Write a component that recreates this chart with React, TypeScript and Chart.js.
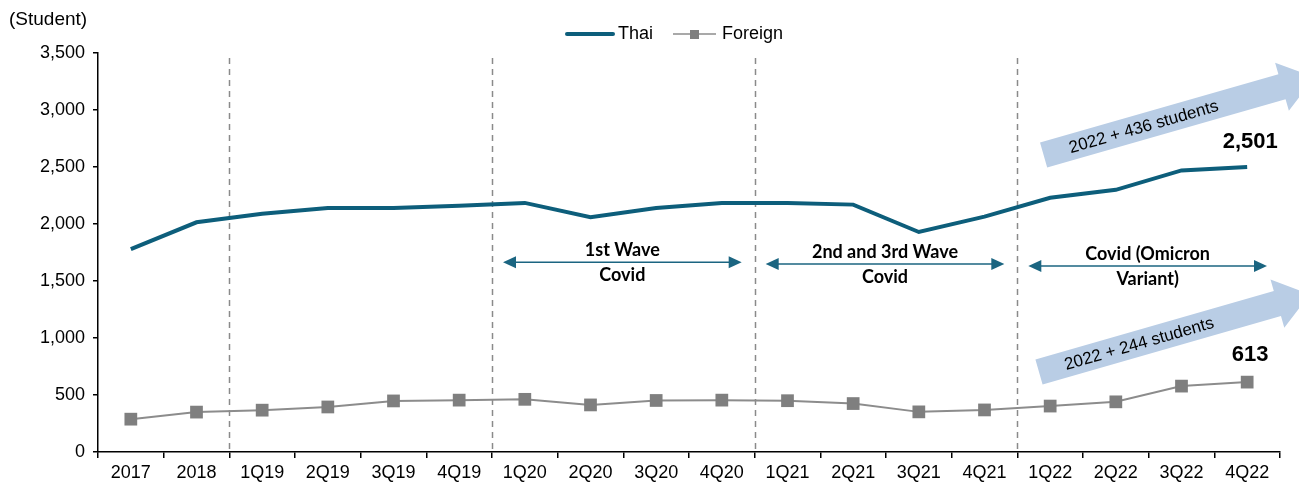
import React, { useEffect, useRef } from 'react';
import { Chart, registerables } from 'chart.js';

Chart.register(...registerables);

const categories = ['2017', '2018', '1Q19', '2Q19', '3Q19', '4Q19', '1Q20', '2Q20', '3Q20', '4Q20', '1Q21', '2Q21', '3Q21', '4Q21', '1Q22', '2Q22', '3Q22', '4Q22'];
const thaiValues = [1780, 2015, 2090, 2140, 2140, 2160, 2185, 2060, 2140, 2185, 2185, 2170, 1930, 2065, 2230, 2300, 2470, 2501];
const foreignValues = [288, 350, 367, 395, 448, 455, 462, 413, 452, 455, 450, 425, 352, 369, 403, 440, 578, 613];

const yMin = 0;
const yMax = 3500;
const yStep = 500;

const phaseBoundaries = [1.5, 5.5, 9.5, 13.5];
const waveFrom = [5.5, 9.5, 13.5];
const waveTo = [9.5, 13.5, 17.5];
const waveLevel = [1665, 1650, 1632];
const waveTopText = ['1st Wave', '2nd and 3rd Wave', 'Covid (Omicron'];
const waveBottomText = ['Covid', 'Covid', 'Variant)'];

const growthStartIndex = [13.9, 13.83];
const growthStartValue = [2605, 702];
const growthText = ['2022 + 436 students', '2022 + 244 students'];

const endLabelText = ['2,501', '613'];

const THAI = '#0d5e7b';
const FOREIGN_LINE = '#8c8c8c';
const FOREIGN_MARK = '#7f7f7f';
const WAVE = '#1b6581';
const GROWTH = '#b9cde5';
const FONT = "'Liberation Sans', Arial, sans-serif";
const WAVE_FONT = "bold 18px Lato, 'Liberation Sans', sans-serif";

const overlay = {
  id: 'overlay',
  beforeDatasetsDraw(chart: any) {
    const { ctx, chartArea, scales } = chart;
    const x = scales.x;
    const y = scales.y;
    ctx.save();
    ctx.strokeStyle = '#8a8a8a';
    ctx.lineWidth = 1.5;
    ctx.setLineDash([6, 5]);
    for (const b of phaseBoundaries) {
      const px = Math.round(x.getPixelForValue(b)) + 0.5;
      ctx.beginPath();
      ctx.moveTo(px, chartArea.top + 5);
      ctx.lineTo(px, chartArea.bottom);
      ctx.stroke();
    }
    ctx.restore();

    const ang = (-16 * Math.PI) / 180;
    for (let i = 0; i < growthText.length; i++) {
      const sx = x.getPixelForValue(growthStartIndex[i]);
      const sy = y.getPixelForValue(growthStartValue[i]);
      const len = 282;
      const bw = 13;
      const hw = 25;
      const hl = 34;
      ctx.save();
      ctx.translate(sx, sy);
      ctx.rotate(ang);
      ctx.fillStyle = GROWTH;
      ctx.beginPath();
      ctx.moveTo(0, -bw);
      ctx.lineTo(len - hl, -bw);
      ctx.lineTo(len - hl, -hw);
      ctx.lineTo(len, 0);
      ctx.lineTo(len - hl, hw);
      ctx.lineTo(len - hl, bw);
      ctx.lineTo(0, bw);
      ctx.closePath();
      ctx.fill();
      ctx.fillStyle = '#000';
      ctx.font = `17px ${FONT}`;
      ctx.textAlign = 'center';
      ctx.textBaseline = 'middle';
      ctx.fillText(growthText[i], 104, 1);
      ctx.restore();
    }
  },
  afterDatasetsDraw(chart: any) {
    const { ctx, scales } = chart;
    const x = scales.x;
    const y = scales.y;

    for (let i = 0; i < waveFrom.length; i++) {
      const x1 = x.getPixelForValue(waveFrom[i]) + 11;
      const x2 = x.getPixelForValue(waveTo[i]) - 13;
      const py = y.getPixelForValue(waveLevel[i]);
      ctx.save();
      ctx.strokeStyle = WAVE;
      ctx.fillStyle = WAVE;
      ctx.lineWidth = 1.5;
      ctx.beginPath();
      ctx.moveTo(x1 + 6, py);
      ctx.lineTo(x2 - 6, py);
      ctx.stroke();
      ctx.beginPath();
      ctx.moveTo(x1, py);
      ctx.lineTo(x1 + 13, py - 6);
      ctx.lineTo(x1 + 13, py + 6);
      ctx.closePath();
      ctx.fill();
      ctx.beginPath();
      ctx.moveTo(x2, py);
      ctx.lineTo(x2 - 13, py - 6);
      ctx.lineTo(x2 - 13, py + 6);
      ctx.closePath();
      ctx.fill();
      const cx = (x1 + x2) / 2;
      ctx.fillStyle = '#000';
      ctx.font = WAVE_FONT;
      ctx.textAlign = 'center';
      ctx.textBaseline = 'middle';
      ctx.fillText(waveTopText[i], cx, py - 12);
      ctx.fillText(waveBottomText[i], cx, py + 13);
      ctx.restore();
    }

    ctx.save();
    ctx.fillStyle = '#000';
    ctx.font = `bold 22px ${FONT}`;
    ctx.textAlign = 'center';
    ctx.textBaseline = 'middle';
    for (let d = 0; d < endLabelText.length; d++) {
      const meta = chart.getDatasetMeta(d);
      const pt = meta.data[meta.data.length - 1];
      ctx.fillText(endLabelText[d], pt.x + 3, pt.y - (d === 0 ? 25 : 27));
    }
    ctx.restore();

    ctx.save();
    ctx.fillStyle = '#000';
    ctx.font = `19px ${FONT}`;
    ctx.textAlign = 'left';
    ctx.textBaseline = 'middle';
    ctx.fillText('(Student)', 9, 20);

    const ly = 34;
    ctx.font = `18px ${FONT}`;
    ctx.strokeStyle = THAI;
    ctx.lineWidth = 4;
    ctx.lineCap = 'round';
    ctx.beginPath();
    ctx.moveTo(567, ly);
    ctx.lineTo(613, ly);
    ctx.stroke();
    ctx.fillText('Thai', 618, ly);
    ctx.lineCap = 'butt';
    ctx.strokeStyle = FOREIGN_LINE;
    ctx.lineWidth = 1.5;
    ctx.beginPath();
    ctx.moveTo(673, ly);
    ctx.lineTo(716, ly);
    ctx.stroke();
    ctx.fillStyle = FOREIGN_MARK;
    ctx.fillRect(690, ly - 4, 9, 9);
    ctx.fillStyle = '#000';
    ctx.fillText('Foreign', 722, ly);
    ctx.restore();
  },
};

export default function App() {
  const ref = useRef<HTMLCanvasElement | null>(null);
  useEffect(() => {
    document.body.style.margin = '0';
    const canvas = ref.current;
    if (!canvas) return;
    const chart = new Chart(canvas, {
      type: 'line',
      data: {
        labels: categories,
        datasets: [
          {
            label: 'Thai',
            data: thaiValues,
            borderColor: THAI,
            backgroundColor: THAI,
            borderWidth: 4,
            pointRadius: 0,
            tension: 0,
          },
          {
            label: 'Foreign',
            data: foreignValues,
            borderColor: FOREIGN_LINE,
            backgroundColor: FOREIGN_MARK,
            borderWidth: 2,
            pointStyle: 'rect',
            pointRadius: 9,
            pointBorderWidth: 0,
            pointBackgroundColor: FOREIGN_MARK,
            tension: 0,
          },
        ],
      },
      options: {
        responsive: false,
        animation: false,
        devicePixelRatio: 1,
        layout: { padding: { left: 0, right: 19, top: 53, bottom: 0 } },
        plugins: { legend: { display: false }, tooltip: { enabled: false } },
        scales: {
          x: {
            offset: true,
            afterFit(scale: any) {
              scale.height = 31;
            },
            grid: {
              offset: true,
              drawOnChartArea: false,
              drawTicks: true,
              tickLength: 6,
              color: '#000',
              lineWidth: 1.5,
            },
            border: { color: '#000', width: 1.5 },
            ticks: {
              color: '#000',
              font: { family: FONT, size: 18 },
              padding: 4,
              maxRotation: 0,
              autoSkip: false,
            },
          },
          y: {
            min: yMin,
            max: yMax,
            afterFit(scale: any) {
              scale.width = 98;
            },
            grid: {
              drawOnChartArea: false,
              drawTicks: true,
              tickLength: 5,
              color: '#000',
              lineWidth: 1.5,
            },
            border: { color: '#000', width: 1.5 },
            ticks: {
              stepSize: yStep,
              color: '#000',
              font: { family: FONT, size: 18 },
              padding: 8,
              callback: (v: any) => Number(v).toLocaleString('en-US'),
            },
          },
        },
      },
      plugins: [overlay],
    });
    return () => chart.destroy();
  }, []);
  return <canvas ref={ref} width={1299} height={483} style={{ display: 'block' }} />;
}
